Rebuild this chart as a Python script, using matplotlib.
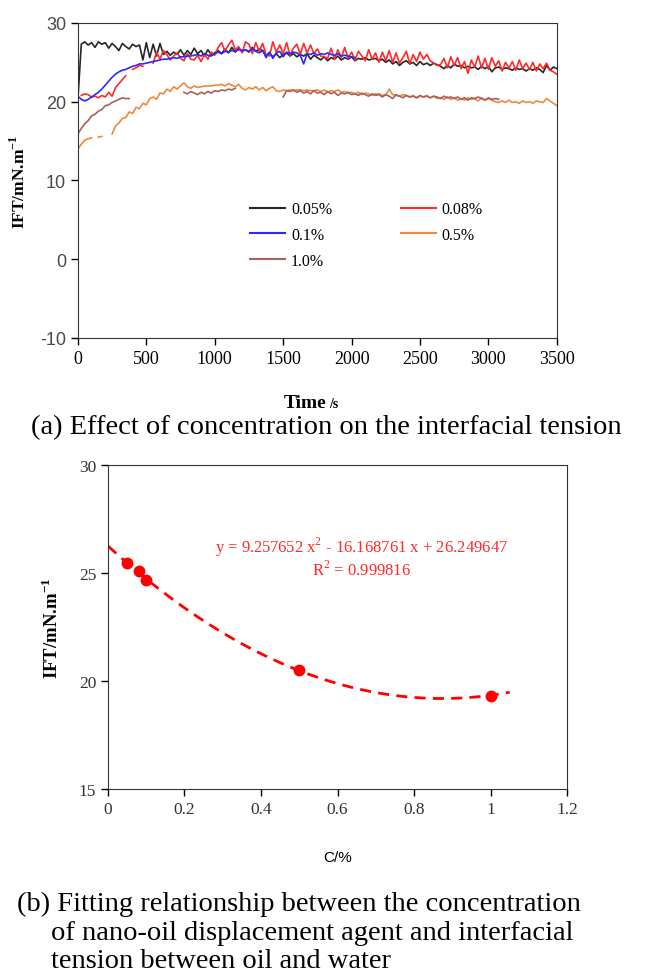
import numpy as np
import matplotlib
matplotlib.use("Agg")
import matplotlib.pyplot as plt
from matplotlib.lines import Line2D

plt.rcParams["mathtext.fontset"] = "custom"
plt.rcParams["mathtext.rm"] = "Liberation Serif"
plt.rcParams["mathtext.bf"] = "Liberation Serif:bold"
plt.rcParams["axes.unicode_minus"] = False

nan = np.nan

# ---- (a) IFT vs time (25 s steps) ----
t_black = np.arange(0, 3501, 25)
ift_005 = [20.3, 27.3, 27.6, 27.2, 27.5, 26.9, 27.6, 27.3, 27.5, 26.8, 27.4, 27.0, 26.5, 27.4, 27.0, 26.7,
           27.3, 27.0, 27.2, 25.3, 27.5, 25.6, 27.3, 25.8, 27.4, 26.0, 26.4, 25.9, 26.3, 26.0, 26.6, 25.9,
           26.5, 26.0, 26.8, 26.1, 26.5, 25.8, 26.6, 26.0, 26.2, 26.5, 26.1, 26.7, 26.2, 26.9, 26.3, 26.8,
           26.4, 26.6, 26.3, 26.9, 26.4, 26.7, 26.5, 25.9, 26.2, 25.7, 26.1, 25.6, 26.0, 26.2, 25.8, 26.1,
           25.7, 26.0, 25.8, 26.1, 25.4, 25.9, 25.6, 25.3, 25.7, 25.2, 25.6, 25.4, 25.8, 25.3, 25.6, 25.4,
           25.7, 25.2, 25.5, 25.4, 25.6, 25.3, 25.4, 25.5, 25.2, 25.4, 25.0, 25.3, 24.8, 25.1, 24.6, 25.0,
           25.2, 24.8, 25.0, 24.6, 25.1, 24.7, 24.9, 24.6, 24.9, 24.7, 24.5, 24.2, 24.6, 24.3, 24.8, 24.5,
           24.6, 24.3, 24.5, 24.3, 24.4, 24.1, 24.5, 24.2, 24.5, 23.8, 24.3, 24.4, 24.1, 24.3, 24.2, 24.0,
           24.3, 24.1, 24.2, 23.9, 24.2, 24.0, 24.3, 24.1, 23.7, 24.6, 24.0, 24.4, 24.2]

t_red = np.arange(25, 3501, 25)
ift_008 = [20.8, 21.0, 20.9, 20.6, 20.7, 20.5, 20.8, 20.6, 21.2, 20.7, 21.8, 22.3, 22.8, 23.3, nan, 24.1,
           24.3, 24.6, 24.5, nan, nan, 24.9, 26.3, 25.4, 26.5, 26.0, 25.3, 25.8, 26.2, 25.5, 25.2, 26.1,
           25.4, 25.3, 25.9, 25.1, 26.0, 25.4, 26.3, 25.9, 26.9, 27.5, 26.4, 27.2, 27.8, 26.6, 27.0, 26.2,
           27.6, 27.3, 26.1, 27.5, 26.4, 27.4, 26.0, 25.8, 27.6, 26.3, 27.2, 26.1, 27.5, 25.9, 26.8, 27.3,
           26.0, 27.4, 26.2, 27.2, 26.1, 26.7, 25.8, 25.7, 25.5, 26.8, 25.4, 26.6, 25.6, 26.9, 25.5, 26.3,
           25.3, 26.4, 25.8, 25.2, 26.6, 25.4, 26.2, 25.0, 26.3, 25.2, 26.5, 25.0, 26.2, 24.9, 25.6, 26.4,
           24.8, 26.0, 25.1, 26.3, 25.4, 26.0, 25.2, 24.9, 24.6, 24.7, 25.5, 24.3, 25.7, 24.6, 25.6, 24.2,
           25.1, 23.6, 25.3, 24.4, 25.8, 24.3, 25.5, 24.1, 25.6, 24.5, 25.2, 23.9, 25.0, 24.3, 25.1, 24.0,
           25.3, 24.2, 24.9, 24.1, 25.0, 23.9, 24.8, 24.2, 24.9, 24.0, 23.8, 23.5]

t_blue = np.arange(0, 2026, 25)
ift_01 = [20.7, 20.3, 20.1, 20.3, 20.6, 20.9, 21.2, 21.6, 22.1, 22.6, 23.1, 23.5, 23.8, 24.0, 24.1, 24.3,
          24.5, 24.6, 24.8, 24.8, 24.9, 25.0, 25.1, 25.2, 25.3, 25.4, 25.4, 25.5, 25.6, 25.5, 25.7, 25.7,
          25.8, 25.8, 25.9, 26.0, 25.8, 26.1, 25.9, 25.8, 26.1, 26.3, 26.1, 26.4, 26.3, 26.5, 26.4, 26.6,
          26.5, 26.6, 26.4, 26.7, 26.4, 26.2, 26.5, 25.6, 26.3, 25.5, 26.2, 26.4, 25.7, 26.3, 26.1, 26.3,
          26.2, 25.9, 24.8, 26.1, 26.0, 26.2, 25.9, 26.1, 26.0, 26.2, 26.0, 25.9, 26.1, 25.8, 25.9, 25.8,
          25.7, 25.6]

t_orange = np.arange(0, 3501, 25)
ift_05 = [14.0, 14.6, 15.1, 15.3, 15.4, nan, 15.5, 15.6, nan, nan, 15.9, 16.9, 17.3, 17.9, 18.0, 18.7,
          18.5, 19.3, 19.1, 19.8, 19.6, 20.4, 20.6, 20.3, 21.1, 21.0, 21.6, 21.3, 21.9, 21.6, 22.0, 22.4,
          21.9, 21.7, 22.0, 21.8, 21.9, 22.0, 22.0, 22.0, 22.1, 22.1, 22.2, 22.0, 22.3, 22.1, 21.9, 22.2,
          21.7, 21.5, 21.8, 21.6, 21.9, 21.5, 21.8, 21.4, 21.7, 21.9, 21.4, 21.3, 21.5, 21.4, 21.5, 21.4,
          21.5, 21.5, 21.4, 21.5, 21.4, 21.4, 21.5, 21.3, 21.5, 21.2, 21.4, 21.3, 21.5, 21.2, 21.3, 21.1,
          21.2, 21.0, 21.2, 20.9, 21.1, 21.0, 20.8, 21.0, 21.0, 20.8, 20.9, 21.6, 20.9, 20.8, 20.7, 20.9,
          20.8, 20.6, 20.8, 20.5, 20.7, 20.6, 20.8, 20.5, 20.7, 20.4, 20.5, 20.3, 20.6, 20.3, 20.5, 20.2,
          20.4, 20.2, 20.5, 20.3, 20.4, 20.1, 20.5, 20.2, 20.4, 20.2, 20.0, 19.9, 20.1, 19.9, 20.2, 19.9,
          20.0, 19.8, 20.1, 19.9, 20.0, 19.8, 20.1, 20.0, 19.9, 20.4, 20.1, 19.8, 19.5]

# 1.0% was recorded in three pieces
t_brown1 = np.arange(0, 376, 25)
ift_10_a = [15.9, 16.6, 17.2, 17.6, 18.2, 18.4, 18.8, 19.0, 19.5, 19.6, 19.9, 20.1, 20.3, 20.5, 20.4, 20.4]
t_brown2 = np.arange(775, 1151, 25)
ift_10_b = [21.2, 21.0, 21.3, 21.1, 20.9, 21.2, 21.0, 21.3, 21.1, 21.4, 21.3, 21.5, 21.4, 21.6, 21.5, 21.7]
t_brown3 = np.arange(1500, 3076, 25)
ift_10_c = [20.6, 21.4, 21.3, 21.5, 21.2, 21.4, 21.1, 21.3, 21.0, 21.4, 21.1, 21.2, 20.9, 21.3, 21.0, 21.2,
            20.8, 21.1, 21.0, 21.2, 20.9, 21.0, 20.8, 21.1, 20.9, 20.7, 21.0, 20.8, 20.9, 20.6, 20.9, 20.7,
            20.4, 20.9, 20.7, 20.5, 20.8, 20.6, 20.7, 20.5, 20.8, 20.6, 20.7, 20.5, 20.7, 20.6, 20.4, 20.7,
            20.5, 20.6, 20.4, 20.6, 20.3, 20.5, 20.2, 20.5, 20.4, 20.6, 20.4, 20.2, 20.5, 20.3, 20.4, 20.3]

# ---- (b) fitted points ----
conc = [0.05, 0.08, 0.1, 0.5, 1.0]
ift_avg = [25.45, 25.1, 24.7, 20.5, 19.3]
fit_coef = [9.257652, -16.168761, 26.249647]

c_black = "#262626"
c_red = "#ff2a2a"
c_blue = "#2a2aff"
c_orange = "#f0893a"
c_brown = "#a86060"
serif = "Liberation Serif"

fig = plt.figure(figsize=(6.49, 9.78), dpi=100)

# ===== top panel =====
ax1 = fig.add_axes([0.120, 0.6534, 0.738, 0.3221])
lw = 1.2
ax1.plot(t_black, ift_005, color=c_black, lw=lw)
ax1.plot(t_red, ift_008, color=c_red, lw=lw)
ax1.plot(t_blue, ift_01, color=c_blue, lw=lw)
ax1.plot(t_orange, ift_05, color=c_orange, lw=lw)
ax1.plot(t_brown1, ift_10_a, color=c_brown, lw=lw)
ax1.plot(t_brown2, ift_10_b, color=c_brown, lw=lw)
ax1.plot(t_brown3, ift_10_c, color=c_brown, lw=lw)
ax1.set_xlim(0, 3500)
ax1.set_ylim(-10, 30)
ax1.set_xticks(np.arange(0, 3501, 500))
ax1.set_yticks(np.arange(-10, 31, 10))
ax1.tick_params(direction="out", length=5, width=1)
for lab in ax1.get_xticklabels():
    lab.set_fontfamily(serif)
    lab.set_fontsize(13)
for lab in ax1.get_yticklabels():
    lab.set_fontfamily("Liberation Sans")
    lab.set_fontsize(13)
    lab.set_color("#4a4a4a")
for s in ax1.spines.values():
    s.set_color("#333333")
ax1.set_ylabel("IFT/mN.m$^{\\mathbf{-1}}$", fontfamily=serif, fontweight="bold", fontsize=12.5, labelpad=8)

handles = [Line2D([], [], color=c_black, lw=1.5), Line2D([], [], color=c_blue, lw=1.5),
           Line2D([], [], color=c_brown, lw=1.5), Line2D([], [], color=c_red, lw=1.5),
           Line2D([], [], color=c_orange, lw=1.5)]
labels = ["0.05%", "0.1%", "1.0%", "0.08%", "0.5%"]
ax1.legend(handles, labels, ncol=2, frameon=False, loc="upper left", bbox_to_anchor=(0.33, 0.48),
           prop={"family": serif, "size": 11.5}, handlelength=2.2, handletextpad=0.35,
           columnspacing=4.3, labelspacing=0.62)

fig.text(0.503, 0.583, "Time", ha="right", va="baseline", fontfamily=serif, fontweight="bold", fontsize=14)
fig.text(0.507, 0.583, "/s", ha="left", va="baseline", fontfamily=serif, fontweight="bold", fontsize=10)
fig.text(0.503, 0.5565, "(a) Effect of concentration on the interfacial tension", ha="center", va="baseline",
         fontfamily=serif, fontsize=20.5)

# ===== bottom panel =====
ax2 = fig.add_axes([0.1664, 0.1922, 0.7073, 0.3313])
xs = np.linspace(0, 1.05, 200)
ax2.plot(xs, np.polyval(fit_coef, xs), color="red", lw=2, dashes=(4, 2.6))
ax2.plot(conc, ift_avg, "o", color="red", ms=7.5)
ax2.set_xlim(0, 1.2)
ax2.set_ylim(15, 30)
ax2.set_xticks(np.arange(0, 1.21, 0.2))
ax2.set_xticklabels(["0", "0.2", "0.4", "0.6", "0.8", "1", "1.2"])
ax2.set_yticks([15, 20, 25, 30])
ax2.tick_params(direction="out", length=5, width=1, labelsize=12.5)
for lab in ax2.get_xticklabels() + ax2.get_yticklabels():
    lab.set_fontfamily(serif)
    lab.set_color("#333333")
for s in ax2.spines.values():
    s.set_color("#333333")
ax2.set_ylabel("IFT/mN.m$^{\\mathbf{-1}}$", fontfamily=serif, fontweight="bold", fontsize=13.5, labelpad=12)
ax2.set_xlabel("C/%", fontfamily="Liberation Sans", fontsize=11, labelpad=24)
ax2.text(0.553, 0.75, "y = 9.257652 x$^{\\mathregular{2}}$ - 16.168761 x + 26.249647", transform=ax2.transAxes,
         ha="center", va="center", color=c_red, fontfamily=serif, fontsize=12)
ax2.text(0.553, 0.68, "R$^{\\mathregular{2}}$ = 0.999816", transform=ax2.transAxes,
         ha="center", va="center", color=c_red, fontfamily=serif, fontsize=12)

fig.text(0.026, 0.069, "(b) Fitting relationship between the concentration", ha="left", va="baseline",
         fontfamily=serif, fontsize=20.5)
fig.text(0.078, 0.039, "of nano-oil displacement agent and interfacial", ha="left", va="baseline",
         fontfamily=serif, fontsize=20.5)
fig.text(0.078, 0.010, "tension between oil and water", ha="left", va="baseline",
         fontfamily=serif, fontsize=20.5)

fig.savefig("out.png", dpi=100)
